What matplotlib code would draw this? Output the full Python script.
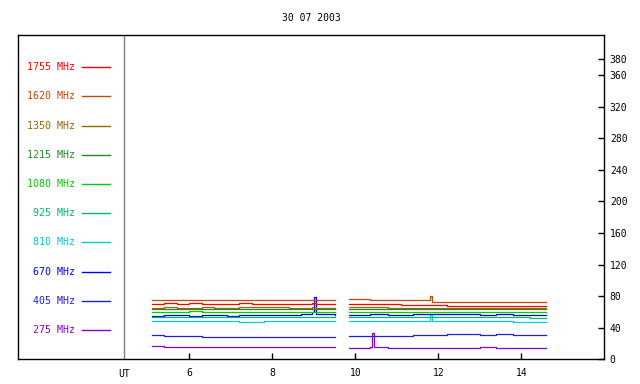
#!/usr/bin/python
"""
Radio flux at the ten patrol frequencies, 30 07 2003.
"""

import matplotlib
matplotlib.use("Agg")
import matplotlib.pyplot as plt

# time (UT hours) of the two observing blocks
t_a = [5.10, 5.40, 5.70, 6.00, 6.30, 6.60, 6.90, 7.20, 7.50, 7.80, 8.10,
       8.40, 8.70, 8.95, 9.00, 9.05, 9.30, 9.51]
t_b = [9.86, 10.10, 10.35, 10.40, 10.45, 10.80, 11.10, 11.40, 11.75, 11.80,
       11.85, 12.20, 12.60, 13.00, 13.40, 13.80, 14.20, 14.60]

labels = ["1755 MHz", "1620 MHz", "1350 MHz", "1215 MHz", "1080 MHz",
          "925 MHz", "810 MHz", "670 MHz", "405 MHz", "275 MHz"]
colors = ["#ff0000", "#cc4400", "#996600", "#228822", "#00cc00",
          "#00bb66", "#00cccc", "#0000ff", "#2222cc", "#8800cc"]

f1755_a = [70.5, 71, 70.5, 71, 70.5, 70, 70.5, 71, 70.5, 70.5, 70, 70.5, 70.5, 71, 71, 70.5, 70.5, 70.5]
f1755_b = [70, 70, 70, 70, 70, 69.5, 69, 69, 68.5, 68.5, 68.5, 68, 68, 68, 68, 67.5, 68, 68]
f1620_a = [75, 75, 75.5, 75, 75, 75.5, 75, 75, 75.5, 75, 75, 75, 75.5, 75.5, 75.5, 75, 75, 75]
f1620_b = [76, 76, 75.5, 75.5, 75.5, 75.5, 75.5, 75.5, 75.5, 80, 73, 72.5, 72.5, 72.5, 72.5, 72, 72, 72.5]
f1350_a = [65.5, 66, 65.5, 65.5, 66, 65.5, 65, 66, 66.5, 66, 66, 65.5, 65.5, 66, 66, 65.5, 65.5, 65.5]
f1350_b = [66, 66, 66, 66, 66, 65.5, 65.5, 65.5, 65.5, 65.5, 65.5, 65.5, 65, 65.5, 65.5, 65, 65.5, 65.5]
f1215_a = [63.5, 63.5, 63.5, 63.5, 63.5, 63.5, 64, 64, 63.5, 63.5, 63.5, 63.5, 63.5, 63.5, 63.5, 63.5, 63.5, 63.5]
f1215_b = [64, 64, 64, 64, 64, 64, 64, 63.5, 63.5, 63.5, 63.5, 63.5, 63.5, 63.5, 63.5, 63.5, 63.5, 63.5]
f1080_a = [60.5, 60.5, 60.5, 61, 60.5, 60.5, 60, 60, 60.5, 60.5, 60.5, 60.5, 60.5, 60.5, 60.5, 60.5, 60.5, 60.5]
f1080_b = [60.5, 60.5, 60.5, 60.5, 60.5, 60.5, 60.5, 60.5, 60.5, 60.5, 60.5, 60.5, 60.5, 60, 60.5, 60.5, 60, 60.5]
f925_a = [53.5, 53.5, 53.5, 53.5, 53.5, 53.5, 53.5, 53.5, 53.5, 53.5, 53.5, 53.5, 53.5, 53.5, 53.5, 53.5, 53.5, 53.5]
f925_b = [53.5, 53.5, 53.5, 53.5, 53.5, 53.5, 53.5, 53.5, 53.5, 53.5, 53.5, 53.5, 53.5, 53.5, 53.5, 53, 52.5, 52.5]
f810_a = [48.5, 48.5, 48.5, 49, 48.5, 48.5, 48.5, 47.5, 47.5, 48, 48.5, 48.5, 48.5, 48.5, 48.5, 48.5, 48.5, 48.5]
f810_b = [48, 48, 48, 48, 48, 48, 48, 48, 48, 56, 48, 48, 48, 48, 48, 47.5, 47, 47]
f670_a = [55.5, 56, 56, 55.5, 56, 56, 55.5, 56, 56, 56, 56.5, 56.5, 57.5, 60, 79, 58, 57, 56]
f670_b = [56.5, 56.5, 57, 57, 57, 56.5, 56.5, 57, 57, 57, 57, 57, 57, 56.5, 57, 56.5, 56.5, 56.5]
f405_a = [30.5, 29.5, 29.5, 29.5, 28, 28, 28, 28.5, 28, 28, 28, 28.5, 28, 28, 28, 28, 28, 28]
f405_b = [29.5, 29.5, 29, 29.5, 29.5, 29.5, 29.5, 30.5, 30.5, 31, 31, 31.5, 31.5, 31, 31.5, 31, 31, 31]
f275_a = [17, 16, 16, 16, 15, 15, 15, 15, 15, 15, 15, 15, 15, 15, 15, 15, 15, 15]
f275_b = [14.5, 14.5, 16, 33, 15, 14.5, 14.5, 14.5, 14.5, 14.5, 14.5, 14.5, 14.5, 15, 14.5, 14.5, 14.5, 14.5]

series_a = [f1755_a, f1620_a, f1350_a, f1215_a, f1080_a, f925_a, f810_a, f670_a, f405_a, f275_a]
series_b = [f1755_b, f1620_b, f1350_b, f1215_b, f1080_b, f925_b, f810_b, f670_b, f405_b, f275_b]

yticks = [0, 40, 80, 120, 160, 200, 240, 280, 320, 360, 380]
xticks = [6, 8, 10, 12, 14]

plt.rcParams["font.family"] = "DejaVu Sans Mono"
plt.rcParams["font.size"] = 7

fig = plt.figure(figsize=(6.4, 3.84), dpi=100)
ax = fig.add_axes([18 / 640, 1 - 359.3 / 384, 586.3 / 640, 324.3 / 384])

# draw the lowest frequencies last so they sit on top like the original
for i in range(len(labels) - 1, -1, -1):
    ax.plot(t_a, series_a[i], color=colors[i], lw=0.9, drawstyle="steps-post")
    ax.plot(t_b, series_b[i], color=colors[i], lw=0.9, drawstyle="steps-post")

ax.axvline(4.434, color="#808080", lw=1.0)

ax.set_xlim(1.873, 16.0)
ax.set_ylim(0, 411)

ax.yaxis.tick_right()
ax.set_yticks(yticks)
ax.set_xticks(xticks)
ax.tick_params(direction="in", length=4, width=1, pad=4)
ax.tick_params(axis="x", pad=6)
for s in ax.spines.values():
    s.set_linewidth(1.0)

ax.text(4.434, -19, "UT", ha="center", va="center", fontsize=7)
ax.set_title("30 07 2003", fontsize=7, pad=10)

# legend: label on the left, a short line sample next to it
for i, lab in enumerate(labels):
    y = 0.901 - i * 0.0901
    ax.text(0.098, y, lab, color=colors[i], transform=ax.transAxes,
            ha="right", va="center", fontsize=7.2)
    ax.plot([0.109, 0.157], [y, y], color=colors[i], lw=1.0,
            transform=ax.transAxes)

fig.savefig("out.png", dpi=100)
